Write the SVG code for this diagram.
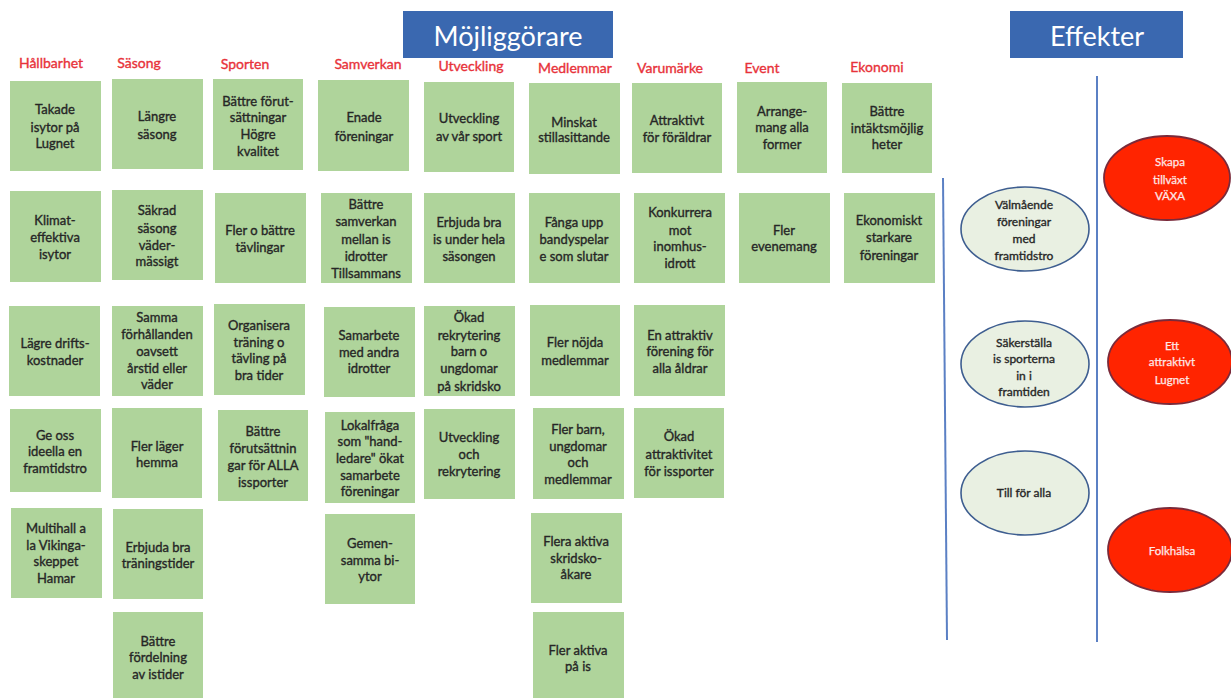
<svg xmlns="http://www.w3.org/2000/svg" width="1231" height="698" viewBox="0 0 1231 698">
<style>
.bx{fill:#afd49b;}
.t{font-family:Lato,"Open Sans","Liberation Sans",sans-serif;font-size:13px;fill:#262626;stroke:#262626;stroke-width:0.35;text-anchor:middle;}
.h{font-family:Lato,"Open Sans","Liberation Sans",sans-serif;font-size:14px;fill:#e8323a;stroke:#e8323a;stroke-width:0.35;text-anchor:middle;}
.ttl{fill:#3a68b0;}
.tt{font-family:Lato,"Open Sans","Liberation Sans",sans-serif;font-size:27px;fill:#fff;text-anchor:middle;}
.ge{fill:#e9f0e2;stroke:#3e5e90;stroke-width:1.6;}
.re{fill:#ff2400;stroke:#7a2a3a;stroke-width:1.8;}
.et{font-family:Lato,"Open Sans","Liberation Sans",sans-serif;font-size:12px;fill:#262626;stroke:#262626;stroke-width:0.35;text-anchor:middle;}
.rt{font-family:Lato,"Open Sans","Liberation Sans",sans-serif;font-size:11.5px;fill:#fde8e8;stroke:#fde8e8;stroke-width:0.25;text-anchor:middle;}
.dv{stroke:#5b80c4;stroke-width:2;fill:none;}
</style>
<rect width="1231" height="698" fill="#fff"/>

<g id="title-mojliggorare"><rect class="ttl" x="403" y="11" width="210" height="47"/><text class="tt" x="508" y="46">Möjliggörare</text></g>
<g id="title-effekter"><rect class="ttl" x="1010" y="11" width="173" height="47"/><text class="tt" x="1097" y="46">Effekter</text></g>

<g id="headers">
<text class="h" x="51" y="68">Hållbarhet</text>
<text class="h" x="139" y="68">Säsong</text>
<text class="h" x="245" y="69">Sporten</text>
<text class="h" x="368" y="69">Samverkan</text>
<text class="h" x="471" y="71">Utveckling</text>
<text class="h" x="575" y="73">Medlemmar</text>
<text class="h" x="670" y="73">Varumärke</text>
<text class="h" x="762" y="73">Event</text>
<text class="h" x="877" y="72">Ekonomi</text>
</g>

<g id="dividers">
<line class="dv" x1="943" y1="178" x2="947" y2="640"/>
<line class="dv" x1="1097" y1="76" x2="1097" y2="642"/>
</g>

<!-- Hållbarhet -->
<g id="h1"><rect class="bx" x="10" y="81" width="91" height="90"/><text class="t"><tspan x="55" y="114">Takade</tspan><tspan x="55" y="132">isytor på</tspan><tspan x="55" y="148">Lugnet</tspan></text></g>
<g id="h2"><rect class="bx" x="10" y="191" width="91" height="91"/><text class="t"><tspan x="55" y="225">Klimat-</tspan><tspan x="55" y="242">effektiva</tspan><tspan x="55" y="259">isytor</tspan></text></g>
<g id="h3"><rect class="bx" x="9" y="306" width="91" height="90"/><text class="t"><tspan x="55" y="348">Lägre drifts-</tspan><tspan x="55" y="365">kostnader</tspan></text></g>
<g id="h4"><rect class="bx" x="10" y="409" width="91" height="83"/><text class="t"><tspan x="55" y="440">Ge oss</tspan><tspan x="55" y="456">ideella en</tspan><tspan x="55" y="473">framtidstro</tspan></text></g>
<g id="h5"><rect class="bx" x="11" y="508" width="91" height="90"/><text class="t"><tspan x="56" y="533">Multihall a</tspan><tspan x="56" y="550">la Vikinga-</tspan><tspan x="56" y="566">skeppet</tspan><tspan x="56" y="583">Hamar</tspan></text></g>

<!-- Säsong -->
<g id="s1"><rect class="bx" x="112" y="79" width="91" height="90"/><text class="t"><tspan x="157" y="121">Längre</tspan><tspan x="157" y="139">säsong</tspan></text></g>
<g id="s2"><rect class="bx" x="112" y="190" width="91" height="90"/><text class="t"><tspan x="157" y="215">Säkrad</tspan><tspan x="157" y="233">säsong</tspan><tspan x="157" y="250">väder-</tspan><tspan x="157" y="266">mässigt</tspan></text></g>
<g id="s3"><rect class="bx" x="112" y="306" width="91" height="90"/><text class="t"><tspan x="157" y="322">Samma</tspan><tspan x="157" y="339">förhållanden</tspan><tspan x="157" y="356">oavsett</tspan><tspan x="157" y="373">årstid eller</tspan><tspan x="157" y="389">väder</tspan></text></g>
<g id="s4"><rect class="bx" x="112" y="408" width="90" height="90"/><text class="t"><tspan x="157" y="451">Fler läger</tspan><tspan x="157" y="467">hemma</tspan></text></g>
<g id="s5"><rect class="bx" x="113" y="509" width="90" height="90"/><text class="t"><tspan x="158" y="552">Erbjuda bra</tspan><tspan x="158" y="568">träningstider</tspan></text></g>
<g id="s6"><rect class="bx" x="113" y="612" width="90" height="92"/><text class="t"><tspan x="158" y="646">Bättre</tspan><tspan x="158" y="662">fördelning</tspan><tspan x="158" y="679">av istider</tspan></text></g>

<!-- Sporten -->
<g id="p1"><rect class="bx" x="213" y="79" width="90" height="91"/><text class="t"><tspan x="258" y="106">Bättre förut-</tspan><tspan x="258" y="122">sättningar</tspan><tspan x="258" y="139">Högre</tspan><tspan x="258" y="156">kvalitet</tspan></text></g>
<g id="p2"><rect class="bx" x="215" y="193" width="91" height="90"/><text class="t"><tspan x="260" y="235">Fler o bättre</tspan><tspan x="260" y="252">tävlingar</tspan></text></g>
<g id="p3"><rect class="bx" x="214" y="304" width="91" height="91"/><text class="t"><tspan x="259" y="330">Organisera</tspan><tspan x="259" y="347">träning o</tspan><tspan x="259" y="363">tävling på</tspan><tspan x="259" y="380">bra tider</tspan></text></g>
<g id="p4"><rect class="bx" x="218" y="410" width="90" height="91"/><text class="t"><tspan x="263" y="436">Bättre</tspan><tspan x="263" y="453">förutsättnin</tspan><tspan x="263" y="470">gar för ALLA</tspan><tspan x="263" y="487">issporter</tspan></text></g>

<!-- Samverkan -->
<g id="v1"><rect class="bx" x="318" y="80" width="91" height="91"/><text class="t"><tspan x="364" y="122">Enade</tspan><tspan x="364" y="141">föreningar</tspan></text></g>
<g id="v2"><rect class="bx" x="321" y="193" width="91" height="90"/><text class="t"><tspan x="366" y="209">Bättre</tspan><tspan x="366" y="226">samverkan</tspan><tspan x="366" y="244">mellan is</tspan><tspan x="366" y="261">idrotter</tspan><tspan x="366" y="278">Tillsammans</tspan></text></g>
<g id="v3"><rect class="bx" x="324" y="307" width="91" height="90"/><text class="t"><tspan x="369" y="340">Samarbete</tspan><tspan x="369" y="357">med andra</tspan><tspan x="369" y="373">idrotter</tspan></text></g>
<g id="v4"><rect class="bx" x="325" y="412" width="90" height="91"/><text class="t"><tspan x="370" y="430">Lokalfråga</tspan><tspan x="370" y="446">som "hand-</tspan><tspan x="370" y="463">ledare" ökat</tspan><tspan x="370" y="480">samarbete</tspan><tspan x="370" y="496">föreningar</tspan></text></g>
<g id="v5"><rect class="bx" x="325" y="514" width="90" height="90"/><text class="t"><tspan x="370" y="548">Gemen-</tspan><tspan x="370" y="565">samma bi-</tspan><tspan x="370" y="581">ytor</tspan></text></g>

<!-- Utveckling -->
<g id="u1"><rect class="bx" x="424" y="82" width="90" height="90"/><text class="t"><tspan x="469" y="123">Utveckling</tspan><tspan x="469" y="141">av vår sport</tspan></text></g>
<g id="u2"><rect class="bx" x="424" y="193" width="91" height="90"/><text class="t"><tspan x="469" y="227">Erbjuda bra</tspan><tspan x="469" y="244">is under hela</tspan><tspan x="469" y="261">säsongen</tspan></text></g>
<g id="u3"><rect class="bx" x="424" y="306" width="91" height="90"/><text class="t"><tspan x="469" y="322">Ökad</tspan><tspan x="469" y="340">rekrytering</tspan><tspan x="469" y="356">barn o</tspan><tspan x="469" y="373">ungdomar</tspan><tspan x="469" y="391">på skridsko</tspan></text></g>
<g id="u4"><rect class="bx" x="424" y="409" width="91" height="90"/><text class="t"><tspan x="469" y="442">Utveckling</tspan><tspan x="469" y="459">och</tspan><tspan x="469" y="476">rekrytering</tspan></text></g>

<!-- Medlemmar -->
<g id="m1"><rect class="bx" x="529" y="83" width="91" height="91"/><text class="t"><tspan x="574" y="127">Minskat</tspan><tspan x="574" y="142">stillasittande</tspan></text></g>
<g id="m2"><rect class="bx" x="529" y="193" width="91" height="90"/><text class="t"><tspan x="574" y="227">Fånga upp</tspan><tspan x="574" y="244">bandyspelar</tspan><tspan x="574" y="261">e som slutar</tspan></text></g>
<g id="m3"><rect class="bx" x="530" y="305" width="90" height="91"/><text class="t"><tspan x="575" y="347">Fler nöjda</tspan><tspan x="575" y="365">medlemmar</tspan></text></g>
<g id="m4"><rect class="bx" x="533" y="408" width="91" height="91"/><text class="t"><tspan x="578" y="434">Fler barn,</tspan><tspan x="578" y="451">ungdomar</tspan><tspan x="578" y="467">och</tspan><tspan x="578" y="484">medlemmar</tspan></text></g>
<g id="m5"><rect class="bx" x="531" y="513" width="91" height="90"/><text class="t"><tspan x="576" y="546">Flera aktiva</tspan><tspan x="576" y="563">skridsko-</tspan><tspan x="576" y="579">åkare</tspan></text></g>
<g id="m6"><rect class="bx" x="533" y="612" width="91" height="92"/><text class="t"><tspan x="578" y="655">Fler aktiva</tspan><tspan x="578" y="671">på is</tspan></text></g>

<!-- Varumärke -->
<g id="r1"><rect class="bx" x="632" y="83" width="90" height="90"/><text class="t"><tspan x="677" y="125">Attraktivt</tspan><tspan x="677" y="142">för föräldrar</tspan></text></g>
<g id="r2"><rect class="bx" x="634" y="193" width="91" height="90"/><text class="t"><tspan x="680" y="217">Konkurrera</tspan><tspan x="680" y="235">mot</tspan><tspan x="680" y="251">inomhus-</tspan><tspan x="680" y="268">idrott</tspan></text></g>
<g id="r3"><rect class="bx" x="634" y="305" width="91" height="91"/><text class="t"><tspan x="680" y="340">En attraktiv</tspan><tspan x="680" y="356">förening för</tspan><tspan x="680" y="373">alla åldrar</tspan></text></g>
<g id="r4"><rect class="bx" x="634" y="408" width="90" height="90"/><text class="t"><tspan x="679" y="441">Ökad</tspan><tspan x="679" y="459">attraktivitet</tspan><tspan x="679" y="476">för issporter</tspan></text></g>

<!-- Event -->
<g id="e1"><rect class="bx" x="737" y="82" width="90" height="91"/><text class="t"><tspan x="782" y="116">Arrange-</tspan><tspan x="782" y="132">mang alla</tspan><tspan x="782" y="149">former</tspan></text></g>
<g id="e2"><rect class="bx" x="739" y="193" width="91" height="90"/><text class="t"><tspan x="784" y="235">Fler</tspan><tspan x="784" y="251">evenemang</tspan></text></g>

<!-- Ekonomi -->
<g id="k1"><rect class="bx" x="842" y="83" width="90" height="90"/><text class="t"><tspan x="887" y="116">Bättre</tspan><tspan x="887" y="133">intäktsmöjlig</tspan><tspan x="887" y="149">heter</tspan></text></g>
<g id="k2"><rect class="bx" x="844" y="193" width="91" height="90"/><text class="t"><tspan x="889" y="225">Ekonomiskt</tspan><tspan x="889" y="242">starkare</tspan><tspan x="889" y="260">föreningar</tspan></text></g>

<!-- Effekter ellipses -->
<g id="eff1"><ellipse class="ge" cx="1025" cy="229" rx="64" ry="42"/><text class="et"><tspan x="1024" y="209">Välmående</tspan><tspan x="1024" y="226">föreningar</tspan><tspan x="1024" y="243">med</tspan><tspan x="1024" y="260">framtidstro</tspan></text></g>
<g id="eff2"><ellipse class="ge" cx="1025" cy="364" rx="64" ry="43"/><text class="et"><tspan x="1024" y="347">Säkerställa</tspan><tspan x="1024" y="363">is sporterna</tspan><tspan x="1024" y="380">in i</tspan><tspan x="1024" y="396">framtiden</tspan></text></g>
<g id="eff3"><ellipse class="ge" cx="1025" cy="493" rx="64" ry="42"/><text class="et"><tspan x="1024" y="497">Till för alla</tspan></text></g>
<g id="red1"><ellipse class="re" cx="1167" cy="178" rx="63" ry="42"/><text class="rt"><tspan x="1170" y="166">Skapa</tspan><tspan x="1170" y="184">tillväxt</tspan><tspan x="1170" y="200">VÄXA</tspan></text></g>
<g id="red2"><ellipse class="re" cx="1170" cy="362" rx="62" ry="42"/><text class="rt"><tspan x="1172" y="350">Ett</tspan><tspan x="1172" y="366">attraktivt</tspan><tspan x="1172" y="384">Lugnet</tspan></text></g>
<g id="red3"><ellipse class="re" cx="1170" cy="550" rx="62" ry="42"/><text class="rt"><tspan x="1172" y="555">Folkhälsa</tspan></text></g>
</svg>
